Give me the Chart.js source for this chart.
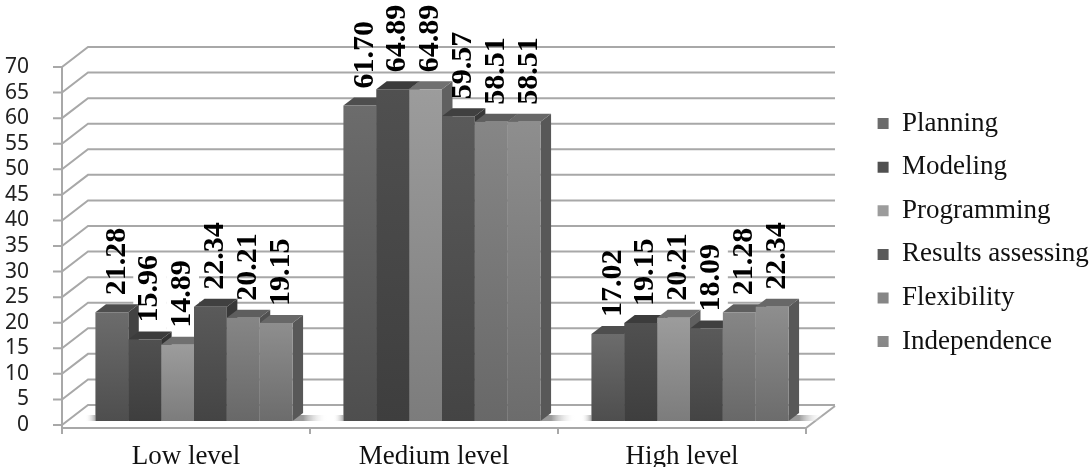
<!DOCTYPE html>
<html><head><meta charset="utf-8">
<style>html,body{margin:0;padding:0;background:#fff}#c{display:block}</style>
<script src="https://cdn.jsdelivr.net/npm/chart.js@4"></script></head>
<body><div style="width:1091px;height:467px"><canvas id="c" width="1091" height="467"></canvas></div>
<script>
const categories = ["Low level","Medium level","High level"];
const planning = [21.28,61.70,17.02];
const modeling = [15.96,64.89,19.15];
const programming = [14.89,64.89,20.21];
const resultsAssessing = [22.34,59.57,18.09];
const flexibility = [20.21,58.51,21.28];
const independence = [19.15,58.51,22.34];
const seriesNames = ["Planning","Modeling","Programming","Results assessing","Flexibility","Independence"];
const seriesValues = [planning,modeling,programming,resultsAssessing,flexibility,independence];
const frontTop = ["#6c6c6c","#505050","#9c9c9c","#5a5a5a","#868686","#8e8e8e"];
const frontBottom = ["#4e4e4e","#3e3e3e","#7c7c7c","#444444","#686868","#6c6c6c"];
const topFace = ["#4e4e4e","#3c3c3c","#707070","#404040","#5e5e5e","#686868"];
const sideFace = ["#424242","#343434","#606060","#383838","#505050","#585858"];
const backedLabels = [[0,1],[0,2],[2,3]];
const GRID="#a8a8a8", WALL_DX=26, WALL_DY=20, BAR_DX=8, BAR_DY=4, DEPTH_X=10.5, DEPTH_Y=8;

const wall3d = {
  id:"wall3d",
  afterLayout(chart){
    const l=chart.legend; l.left=861; l.top=93.5; l.bottom=380; l.right=1091;
  },
  beforeDatasetsDraw(chart){
    const {ctx,scales:{x,y},chartArea:a}=chart;
    ctx.save();
    ctx.strokeStyle=GRID; ctx.lineWidth=2;
    y.ticks.forEach(t=>{
      const py=y.getPixelForValue(t.value);
      ctx.beginPath();
      ctx.moveTo(a.left-9,py); ctx.lineTo(a.left,py);
      ctx.lineTo(a.left+WALL_DX,py-WALL_DY); ctx.lineTo(a.right+WALL_DX+3,py-WALL_DY);
      ctx.stroke();
    });
    const y0=y.getPixelForValue(0)+3;
    ctx.beginPath(); ctx.moveTo(a.left,y.getPixelForValue(70)); ctx.lineTo(a.left,y0+6); ctx.stroke();
    ctx.beginPath(); ctx.moveTo(a.left,y0); ctx.lineTo(a.right,y0); ctx.lineTo(a.right+WALL_DX+3,y0-WALL_DY-2); ctx.stroke();
    categories.forEach((c,i)=>{
      const w=(x.getPixelForTick(1)-x.getPixelForTick(0));
      const px=x.getPixelForTick(i)+w/2;
      ctx.beginPath(); ctx.moveTo(px,y0); ctx.lineTo(px,y0+6); ctx.stroke();
    });
    ctx.translate(BAR_DX,-BAR_DY);
    backedLabels.forEach(([ci,si])=>{
      const b=chart.getDatasetMeta(si).data[ci];
      ctx.fillStyle="#fff";
      ctx.fillRect(b.x-b.width/2+5,b.y-85,b.width,85);
    });
    categories.forEach((c,ci)=>{
      const first=chart.getDatasetMeta(0).data[ci], last=chart.getDatasetMeta(seriesValues.length-1).data[ci];
      const gx0=first.x-first.width/2, gx1=last.x+last.width/2+DEPTH_X;
      let g=ctx.createLinearGradient(gx1,0,gx1+24,0);
      g.addColorStop(0,"#9a9a9a"); g.addColorStop(1,"rgba(255,255,255,0)");
      ctx.fillStyle=g; ctx.fillRect(gx1-DEPTH_X,first.base-6,34,6);
      g=ctx.createLinearGradient(gx0,0,gx0-10,0);
      g.addColorStop(0,"#aaa"); g.addColorStop(1,"rgba(255,255,255,0)");
      ctx.fillStyle=g; ctx.fillRect(gx0-10,first.base-6,10,6);
      seriesValues.forEach((v,si)=>{
        const b=chart.getDatasetMeta(si).data[ci];
        const x0=b.x-b.width/2,x1=b.x+b.width/2;
        ctx.fillStyle=sideFace[si];
        ctx.beginPath(); ctx.moveTo(x1,b.y); ctx.lineTo(x1+DEPTH_X,b.y-DEPTH_Y); ctx.lineTo(x1+DEPTH_X,b.base-DEPTH_Y); ctx.lineTo(x1,b.base); ctx.closePath(); ctx.fill();
        ctx.fillStyle=topFace[si];
        ctx.beginPath(); ctx.moveTo(x0,b.y); ctx.lineTo(x0+DEPTH_X,b.y-DEPTH_Y); ctx.lineTo(x1+DEPTH_X,b.y-DEPTH_Y); ctx.lineTo(x1,b.y); ctx.closePath(); ctx.fill();
      });
    });
  },
  afterDatasetsDraw(chart){
    const {ctx}=chart;
    ctx.fillStyle="#000"; ctx.font="bold 30px 'Liberation Serif'"; ctx.textAlign="left"; ctx.textBaseline="middle";
    categories.forEach((c,ci)=>{
      seriesValues.forEach((v,si)=>{
        const b=chart.getDatasetMeta(si).data[ci];
        ctx.save();
        ctx.translate(b.x+5,b.y-17);
        ctx.rotate(-Math.PI/2);
        ctx.fillText(v[ci].toFixed(2),0,0);
        ctx.restore();
      });
    });
    ctx.restore();
  }
};

function gradient(si){
  return c=>{
    const ch=c.chart, sc=ch.scales.y;
    if(!ch.chartArea||c.type!=="data"||!sc) return frontTop[si];
    const g=ch.ctx.createLinearGradient(0,sc.getPixelForValue(c.parsed.y),0,sc.getPixelForValue(0));
    g.addColorStop(0,frontTop[si]); g.addColorStop(1,frontBottom[si]);
    return g;
  };
}

new Chart(document.getElementById("c"),{
  type:"bar",
  data:{labels:categories,datasets:seriesNames.map((n,i)=>({label:n,data:seriesValues[i],backgroundColor:gradient(i),borderWidth:0,barPercentage:1,categoryPercentage:0.795}))},
  plugins:[wall3d],
  options:{
    responsive:false,animation:false,
    layout:{padding:{top:67,left:0,right:285,bottom:0}},
    plugins:{
      legend:{position:"chartArea",align:"start",labels:{boxWidth:11,boxHeight:11,padding:16.6,color:"#111",font:{family:"Liberation Serif",size:27}}},
      tooltip:{enabled:false},title:{display:false}
    },
    scales:{
      x:{grid:{display:false},border:{display:false},afterFit(s){s.height=42;},ticks:{padding:8,maxRotation:0,color:"#111",font:{family:"Liberation Serif",size:27}}},
      y:{min:0,max:70,grid:{display:false},border:{display:false},afterFit(s){s.width=62;},ticks:{stepSize:5,autoSkip:false,padding:25,color:"#222",font:{family:"Noto Sans",size:21}}}
    }
  }
});
</script></body></html>
